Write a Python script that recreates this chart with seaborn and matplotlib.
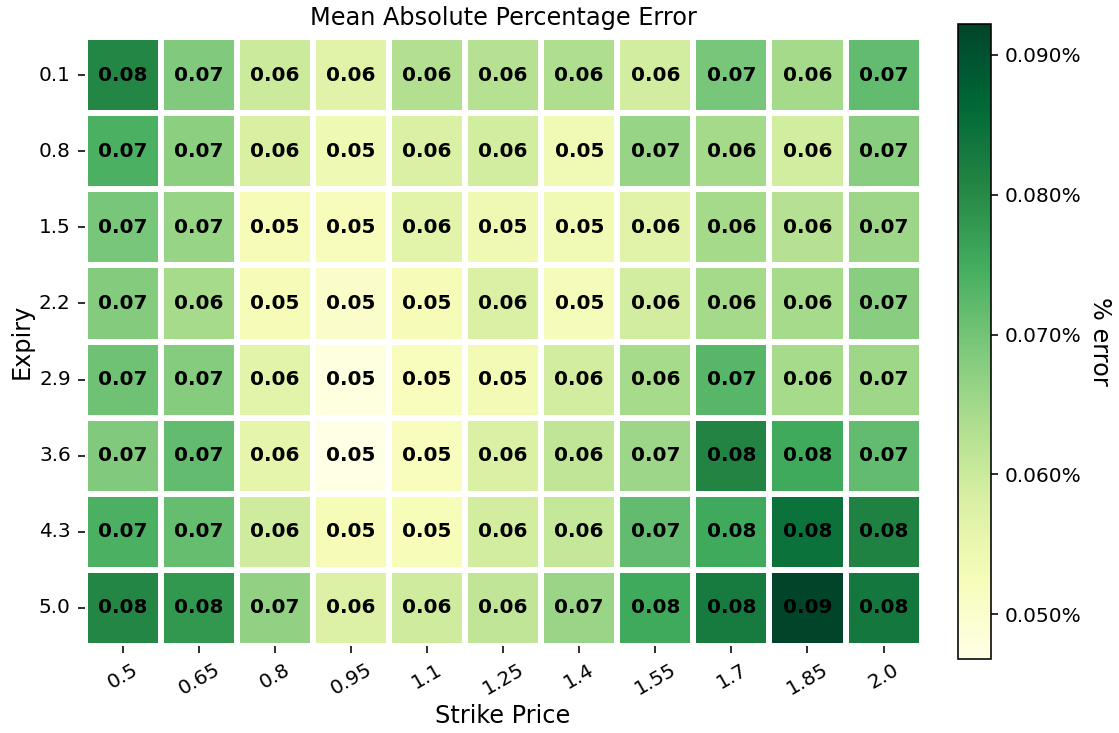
import numpy as np
import pandas as pd
import matplotlib
matplotlib.use("Agg")
import matplotlib.pyplot as plt
import matplotlib.ticker as mticker
import seaborn as sns

strikes = ["0.5", "0.65", "0.8", "0.95", "1.1", "1.25", "1.4", "1.55", "1.7", "1.85", "2.0"]
expiries = ["0.1", "0.8", "1.5", "2.2", "2.9", "3.6", "4.3", "5.0"]

row_01 = [0.0805, 0.0686, 0.0600, 0.0568, 0.0632, 0.0627, 0.0636, 0.0591, 0.0695, 0.0647, 0.0718]
row_08 = [0.0741, 0.0673, 0.0582, 0.0541, 0.0580, 0.0591, 0.0536, 0.0660, 0.0646, 0.0590, 0.0677]
row_15 = [0.0695, 0.0660, 0.0527, 0.0523, 0.0564, 0.0539, 0.0536, 0.0568, 0.0646, 0.0627, 0.0655]
row_22 = [0.0682, 0.0645, 0.0527, 0.0505, 0.0527, 0.0580, 0.0530, 0.0590, 0.0646, 0.0645, 0.0677]
row_29 = [0.0705, 0.0680, 0.0564, 0.0477, 0.0520, 0.0532, 0.0590, 0.0645, 0.0728, 0.0644, 0.0653]
row_36 = [0.0686, 0.0718, 0.0559, 0.0468, 0.0520, 0.0580, 0.0614, 0.0655, 0.0810, 0.0755, 0.0718]
row_43 = [0.0741, 0.0714, 0.0595, 0.0527, 0.0525, 0.0590, 0.0609, 0.0718, 0.0752, 0.0845, 0.0814]
row_50 = [0.0805, 0.0780, 0.0668, 0.0577, 0.0595, 0.0614, 0.0659, 0.0755, 0.0828, 0.0922, 0.0832]

data = pd.DataFrame([row_01, row_08, row_15, row_22, row_29, row_36, row_43, row_50],
                    index=expiries, columns=strikes)

sns.set_style("white")
plt.rcParams['font.family'] = ['DejaVu Sans']
for k in ["text.color", "axes.labelcolor", "xtick.color", "ytick.color"]:
    plt.rcParams[k] = "black"

W, H = 1119, 733
fig = plt.figure(figsize=(W / 100, H / 100), dpi=100)
ax = fig.add_axes([84.6 / W, (H - 659) / H, 837 / W, 635 / H])
cax = fig.add_axes([958 / W, (H - 659) / H, 33 / W, 635 / H])

sns.heatmap(data, ax=ax, cbar_ax=cax, cmap="YlGn", annot=True, fmt=".2f",
            annot_kws={"fontsize": 14.4, "fontweight": "bold", "color": "black"},
            linewidths=4.3, linecolor="white", square=True,
            cbar_kws={"format": mticker.FuncFormatter(lambda x, p: f"{x:.3f}%")})

ax.set_title("Mean Absolute Percentage Error", fontsize=17.3, pad=8.6)
ax.set_xlabel("Strike Price", fontsize=17.3)
ax.set_ylabel("Expiry", fontsize=17.3)
ax.tick_params(axis="both", which="major", length=5, width=1.15, color="black",
               labelsize=14.4, bottom=True, left=True, pad=5)
plt.setp(ax.get_xticklabels(), rotation=30)
plt.setp(ax.get_yticklabels(), rotation=0)

cax.set_yticks([0.05, 0.06, 0.07, 0.08, 0.09])
cax.tick_params(length=5, width=1.15, labelsize=14.4, color="black", pad=5)
cbar = ax.collections[0].colorbar
cbar.outline.set_visible(True)
cbar.outline.set_edgecolor("black")
cbar.outline.set_linewidth(1.15)
cbar.set_label("% error", rotation=270, fontsize=17.3, labelpad=22)

fig.savefig("out.png", dpi=100)
